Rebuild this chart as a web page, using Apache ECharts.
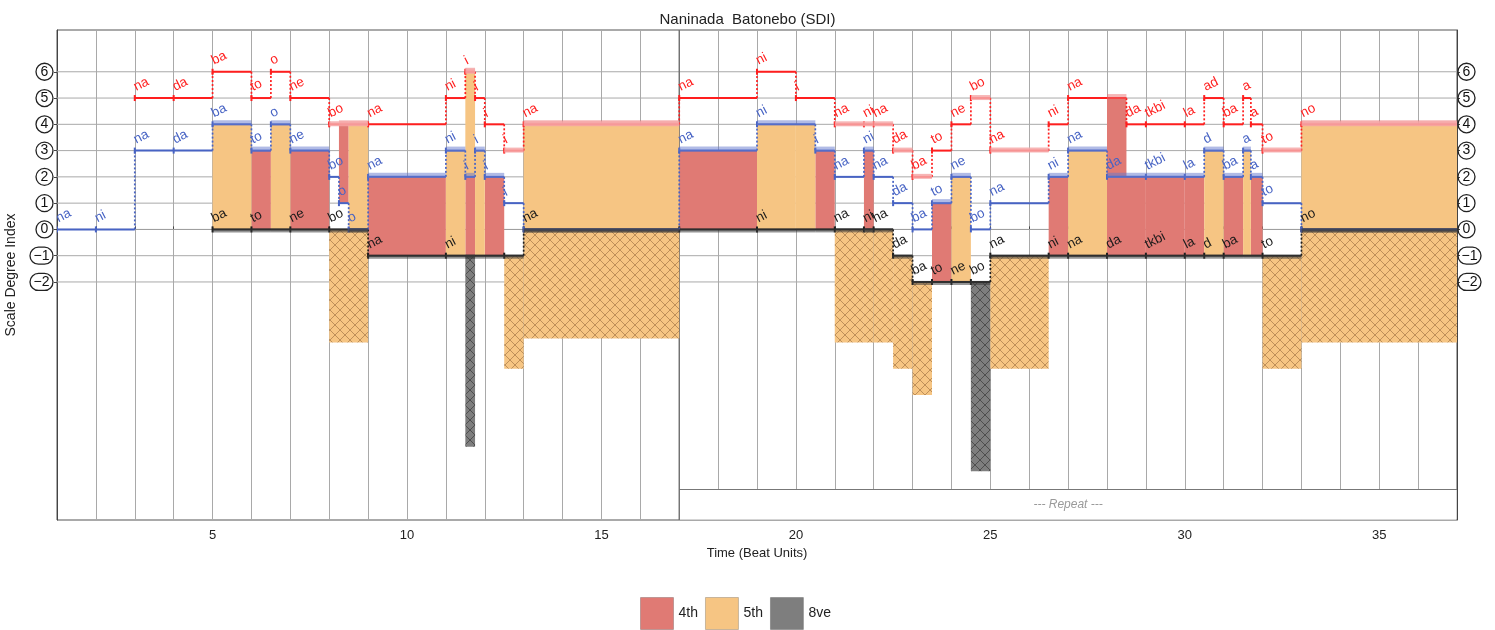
<!DOCTYPE html>
<html><head><meta charset="utf-8">
<script src="https://cdn.jsdelivr.net/npm/echarts@6/dist/echarts.min.js"></script>
<style>html,body{margin:0;padding:0;background:#fff}#c{width:1495px;height:630px}</style>
</head><body><div id="c"></div>
<script>
// ---------- data ----------
const titleText = 'Naninada  Batonebo (SDI)';
// [start beat, end beat, scale degree, syllable]
const redSegs = [
  [3,4,5,'na'],[4,5,5,'da'],[5,6,6,'ba'],[6,6.5,5,'to'],[6.5,7,6,'o'],[7,8,5,'ne'],[8,9,4,'bo'],[9,11,4,'na'],
  [11,11.5,5,'ni'],[11.5,11.75,6,'i'],[11.75,12,5,'i'],[12,12.5,4,'i'],[12.5,13,3,'i'],[13,17,4,'na'],
  [17,19,5,'na'],[19,20,6,'ni'],[20,21,5,'i'],[21,21.75,4,'na'],[21.75,22,4,'ni'],[22,22.5,4,'ha'],
  [22.5,23,3,'da'],[23,23.5,2,'ba'],[23.5,24,3,'to'],[24,24.5,4,'ne'],[24.5,25,5,'bo'],[25,26.5,3,'na'],
  [26.5,27,4,'ni'],[27,28.5,5,'na'],[28.5,29,4,'da'],[29,30,4,'tkbi'],[30,30.5,4,'la'],[30.5,31,5,'ad'],
  [31,31.5,4,'ba'],[31.5,31.7,5,'a'],[31.7,32,4,'a'],[32,33,3,'to'],[33,37,4,'no']
];
const blueSegs = [
  [1,2,0,'na'],[2,3,0,'ni'],[3,4,3,'na'],[4,5,3,'da'],[5,6,4,'ba'],[6,6.5,3,'to'],[6.5,7,4,'o'],[7,8,3,'ne'],
  [8,8.25,2,'bo'],[8.25,8.5,1,'o'],[8.5,9,0,'o'],[9,11,2,'na'],[11,11.5,3,'ni'],[11.5,11.75,2,'i'],
  [11.75,12,3,'i'],[12,12.5,2,'i'],[12.5,13,1,'i'],[13,17,0,''],
  [17,19,3,'na'],[19,20.5,4,'ni'],[20.5,21,3,'i'],[21,21.75,2,'na'],[21.75,22,3,'ni'],[22,22.5,2,'na'],
  [22.5,23,1,'da'],[23,23.5,0,'ba'],[23.5,24,1,'to'],[24,24.5,2,'ne'],[24.5,25,0,'bo'],[25,26.5,1,'na'],
  [26.5,27,2,'ni'],[27,28,3,'na'],[28,29,2,'da'],[29,30,2,'tkbi'],[30,30.5,2,'la'],[30.5,31,3,'d'],
  [31,31.5,2,'ba'],[31.5,31.7,3,'a'],[31.7,32,2,'a'],[32,33,1,'to'],[33,37,0,'']
];
const blackSegs = [
  [5,6,0,'ba'],[6,7,0,'to'],[7,8,0,'ne'],[8,9,0,'bo'],[9,11,-1,'na'],[11,12.5,-1,'ni'],[12.5,13,-1,''],
  [13,17,0,'na'],[17,19,0,''],[19,21,0,'ni'],[21,21.75,0,'na'],[21.75,22,0,'ni'],[22,22.5,0,'ha'],
  [22.5,23,-1,'da'],[23,23.5,-2,'ba'],[23.5,24,-2,'to'],[24,24.5,-2,'ne'],[24.5,25,-2,'bo'],
  [25,26.5,-1,'na'],[26.5,27,-1,'ni'],[27,28,-1,'na'],[28,29,-1,'da'],[29,30,-1,'tkbi'],[30,30.5,-1,'la'],
  [30.5,31,-1,'d'],[31,32,-1,'ba'],[32,33,-1,'to'],[33,37,0,'no']
];
// solid interval bars [start, end, low, high, interval]
const bars = [
  [5,6,0,4,'5th'],[6,6.5,0,3,'4th'],[6.5,7,0,4,'5th'],[7,8,0,3,'4th'],[8.25,8.5,1,4,'4th'],[8.5,9,0,4,'5th'],
  [9,11,-1,2,'4th'],[11,11.5,-1,3,'5th'],[11.5,11.75,-1,2,'4th'],[11.5,11.75,2,6,'5th'],[11.75,12,-1,3,'5th'],
  [12,12.5,-1,2,'4th'],[13,17,0,4,'5th'],
  [17,19,0,3,'4th'],[19,20,0,4,'5th'],[20,20.5,0,4,'5th'],[20.5,21,0,3,'4th'],[21.75,22,0,3,'4th'],
  [23.5,24,-2,1,'4th'],[24,24.5,-2,2,'5th'],[26.5,27,-1,2,'4th'],[27,28,-1,3,'5th'],[28,28.5,2,5,'4th'],
  [28,29,-1,2,'4th'],[29,30,-1,2,'4th'],[30,30.5,-1,2,'4th'],[30.5,31,-1,3,'5th'],[31,31.5,-1,2,'4th'],
  [31.5,31.7,-1,3,'5th'],[31.7,32,-1,2,'4th'],[33,37,0,4,'5th']
];
// hatched (outer-voice) interval bars [start, end, top, bottom, interval]
const hatched = [
  [8,9,0,-4.3,'5th'],[11.5,11.75,-1,-8.27,'8ve'],[12.5,13,-1,-5.3,'5th'],[13,17,0,-4.15,'5th'],
  [21,21.75,0,-4.3,'5th'],[21.75,22,0,-4.3,'5th'],[22,22.5,0,-4.3,'5th'],[22.5,23,-1,-5.3,'5th'],
  [23,23.5,-2,-6.3,'5th'],[24.5,25,-2,-9.2,'8ve'],[25,26.5,-1,-5.3,'5th'],[32,33,-1,-5.3,'5th'],
  [33,37,0,-4.3,'5th']
];
const yTickValues = [-2,-1,0,1,2,3,4,5,6];
const xLabelValues = [5,10,15,20,25,30,35];
const legendNames = ['4th','5th','8ve'];
const repeatBox = [17, 37, -9.9];
const repeatText = '--- Repeat ---';

// ---------- styling ----------
const X_MIN = 1, X_MAX = 37, Y_MIN = -11.06, Y_MAX = 7.59;
const FILL = {'4th':'#E07A74','5th':'#F6C583','8ve':'#7E7E7E'};
const RED = '#FF1E1E', BLUE = '#4763C4', BLACK = '#1E1E1E';
const FONT = '"Liberation Sans", Arial, Helvetica, sans-serif';

function makeHatch(bg, line){
  const c = document.createElement('canvas'); c.width = 10; c.height = 10;
  const g = c.getContext('2d'); g.fillStyle = bg; g.fillRect(0,0,10,10);
  g.strokeStyle = line; g.lineWidth = 0.9; g.beginPath();
  g.moveTo(0,0); g.lineTo(10,10); g.moveTo(10,0); g.lineTo(0,10); g.stroke();
  return c;
}
const HATCH = {
  '5th': {image: makeHatch('#F6C583','rgba(150,105,60,0.65)'), repeat:'repeat'},
  '8ve': {image: makeHatch('#7E7E7E','rgba(50,50,50,0.7)'), repeat:'repeat'}
};
function levelAt(segs, t){ for (const s of segs) if (s[0] <= t && t < s[1]) return s[2]; return null; }

function rectFrom(api, x0, x1, yHi, yLo){
  const a = api.coord([x0, yHi]), b = api.coord([x1, yLo]);
  return {x:a[0], y:a[1], width:b[0]-a[0], height:b[1]-a[1]};
}

function intervalSeries(kind){
  const items = bars.filter(b=>b[4]===kind).map(b=>({x0:b[0],x1:b[1],lo:b[2],hi:b[3],h:false}))
    .concat(hatched.filter(h=>h[4]===kind).map(h=>({x0:h[0],x1:h[1],lo:h[3],hi:h[2],h:true})));
  return {
    name: kind, type:'custom', z:3, silent:true, clip:true,
    itemStyle:{color: FILL[kind]},
    data: items.map(it=>[it.x0,it.x1,it.lo,it.hi]), encode:{x:[0,1], y:[2,3]},
    renderItem(params, api){
      const it = items[params.dataIndex];
      return {type:'rect', shape: rectFrom(api, it.x0, it.x1, it.hi, it.lo),
        style:{fill: it.h ? HATCH[kind] : FILL[kind]}};
    }
  };
}

function voiceSeries(segs, color){
  return {
    type:'custom', z:4, silent:true, clip:true,
    data: segs.map(s=>[s[0],s[1],s[2]]), encode:{x:[0,1], y:2},
    renderItem(params, api){
      const i = params.dataIndex, s = segs[i];
      const a = api.coord([s[0], s[2]]), b = api.coord([s[1], s[2]]);
      const ch = [
        {type:'line', shape:{x1:a[0],y1:a[1],x2:b[0],y2:b[1]}, style:{stroke:color, lineWidth:2}},
        {type:'line', shape:{x1:a[0],y1:a[1]-3,x2:a[0],y2:a[1]+3}, style:{stroke:color, lineWidth:2}}
      ];
      const n = segs[i+1];
      if (n && Math.abs(n[0]-s[1]) < 1e-6 && n[2] !== s[2]) {
        const c = api.coord([n[0], n[2]]);
        ch.push({type:'line', shape:{x1:b[0],y1:b[1],x2:c[0],y2:c[1]}, style:{stroke:color, lineWidth:1.7, lineDash:[2,2]}});
      }
      return {type:'group', children:ch};
    }
  };
}

function labelSeries(segs, color){
  return {
    type:'custom', z:6, silent:true, clip:true,
    data: segs.map(s=>[s[0],s[1],s[2]]), encode:{x:[0,1], y:2},
    renderItem(params, api){
      const s = segs[params.dataIndex];
      if (!s[3]) return {type:'group', children:[]};
      const a = api.coord([s[0], s[2]]);
      return {type:'text', x:a[0]+3, y:a[1]-4, rotation:0.47,
        style:{text:s[3], x:0, y:0, fill:color, font:'13.5px '+FONT,
          align:'left', verticalAlign:'bottom', textAlign:'left', textVerticalAlign:'bottom'}};
    }
  };
}

// glow bands (soft edges where an interval bar meets a voice line)
const glowItems = [];
bars.forEach(b=>{
  const m = (b[0]+b[1])/2;
  glowItems.push({x0:b[0],x1:b[1],y:b[3],d:[-4,1],c: levelAt(redSegs,m)===b[3] ? 'rgba(238,110,110,0.5)' : 'rgba(100,120,205,0.5)'});
  if (levelAt(blackSegs,m)===b[2]) glowItems.push({x0:b[0],x1:b[1],y:b[2],d:[-1,3],c:'rgba(60,60,60,0.55)'});
});
hatched.forEach(h=>{
  const m = (h[0]+h[1])/2, r = levelAt(redSegs,m);
  if (r !== null) glowItems.push({x0:h[0],x1:h[1],y:r,d:[-3,2],c:'rgba(246,168,168,0.85)'});
  glowItems.push({x0:h[0],x1:h[1],y:h[2],d:[-1,3],c:'rgba(60,60,60,0.55)'});
});

const axisLabelCommon = {
  customValues: yTickValues,
  formatter: v => v < 0 ? '{w|\u2212' + (-v) + '}' : '{c|' + v + '}',
  rich: {
    c:{width:17,height:17,lineHeight:17,borderRadius:9,borderWidth:1.3,borderColor:'#222',align:'center',fontSize:14,color:'#111',fontFamily:FONT},
    w:{width:23,height:17,lineHeight:17,borderRadius:9,borderWidth:1.3,borderColor:'#222',align:'center',fontSize:14,color:'#111',fontFamily:FONT}
  }
};

const chart = echarts.init(document.getElementById('c'), null, {renderer:'canvas'});
chart.setOption({
  animation:false,
  backgroundColor:'#fff',
  textStyle:{fontFamily:FONT},
  title:{text:titleText, left:'center', top:7, textStyle:{fontSize:15, fontWeight:'normal', color:'#222', fontFamily:FONT}},
  legend:{data:legendNames, top:597, left:640, padding:0, icon:'rect', itemWidth:33, itemHeight:32, itemGap:7,
    selectedMode:false, textStyle:{fontSize:14, color:'#222'}, itemStyle:{borderColor:'rgba(0,0,0,0.2)', borderWidth:1}},
  grid:{left:57, right:38, top:30, bottom:110, containLabel:false, outerBoundsMode:'none', show:true, borderColor:'#555', borderWidth:1},
  xAxis:{type:'value', min:X_MIN, max:X_MAX, interval:1,
    name:'Time (Beat Units)', nameLocation:'middle', nameGap:27, nameTextStyle:{fontSize:13, color:'#222'},
    axisLine:{lineStyle:{color:'#444'}},
    axisTick:{inside:true, length:3, lineStyle:{color:'#444'}},
    axisLabel:{fontSize:13, color:'#222', margin:9, formatter: v => xLabelValues.indexOf(v) >= 0 ? String(v) : ''},
    splitLine:{show:true, lineStyle:{color:'#a9a9a9', width:1}}},
  yAxis:[
    {type:'value', min:Y_MIN, max:Y_MAX, position:'left',
      name:'Scale Degree Index', nameLocation:'middle', nameGap:32, nameTextStyle:{fontSize:14, color:'#222'},
      axisLine:{show:true, lineStyle:{color:'#444'}}, axisTick:{show:true, customValues:yTickValues, length:3, lineStyle:{color:'#444'}},
      axisLabel:Object.assign({margin:4}, axisLabelCommon), splitLine:{show:false}},
    {type:'value', min:Y_MIN, max:Y_MAX, position:'right',
      axisLine:{show:true, lineStyle:{color:'#444'}}, axisTick:{show:true, customValues:yTickValues, length:3, lineStyle:{color:'#444'}},
      axisLabel:Object.assign({margin:1}, axisLabelCommon), splitLine:{show:false}}
  ],
  series:[
    { // horizontal grid lines at the scale degrees
      type:'custom', z:1, silent:true, clip:true,
      data: yTickValues.map(v=>[v]), encode:{y:0},
      renderItem(params, api){
        const v = yTickValues[params.dataIndex];
        const a = api.coord([X_MIN, v]), b = api.coord([X_MAX, v]);
        return {type:'line', shape:{x1:a[0],y1:a[1],x2:b[0],y2:b[1]}, style:{stroke:'#a9a9a9', lineWidth:1}};
      }
    },
    { // repeat box
      type:'custom', z:1, silent:true, clip:false,
      data:[[repeatBox[0], repeatBox[1], repeatBox[2]]], encode:{x:[0,1], y:2},
      renderItem(params, api){
        const a = api.coord([repeatBox[0], repeatBox[2]]), b = api.coord([repeatBox[1], Y_MIN]);
        const top = api.coord([repeatBox[0], Y_MAX]);
        return {type:'group', children:[
          {type:'rect', shape:{x:a[0]+0.5, y:a[1], width:b[0]-a[0]-1, height:b[1]-a[1]-0.5}, style:{fill:'#fff'}},
          {type:'line', shape:{x1:a[0],y1:a[1],x2:b[0],y2:a[1]}, style:{stroke:'#777', lineWidth:1.2}},
          {type:'line', shape:{x1:a[0],y1:top[1],x2:a[0],y2:b[1]}, style:{stroke:'#6a6a6a', lineWidth:1.3}},
          {type:'text', x:(a[0]+b[0])/2, y:(a[1]+b[1])/2, style:{text:repeatText, x:0, y:0, fill:'#9a9a9a',
            font:'italic 12px '+FONT, align:'center', verticalAlign:'middle', textAlign:'center', textVerticalAlign:'middle'}}
        ]};
      }
    },
    intervalSeries('8ve'),
    intervalSeries('4th'),
    intervalSeries('5th'),
    voiceSeries(blackSegs, BLACK),
    voiceSeries(blueSegs, BLUE),
    voiceSeries(redSegs, RED),
    { // soft glows
      type:'custom', z:5, silent:true, clip:true,
      data: glowItems.map(g=>[g.x0,g.x1,g.y]), encode:{x:[0,1], y:2},
      renderItem(params, api){
        const g = glowItems[params.dataIndex];
        const a = api.coord([g.x0, g.y]), b = api.coord([g.x1, g.y]);
        return {type:'rect', shape:{x:a[0], y:a[1]+g.d[0], width:b[0]-a[0], height:g.d[1]-g.d[0]}, style:{fill:g.c}};
      }
    },
    labelSeries(blackSegs, '#1a1a1a'),
    labelSeries(blueSegs, BLUE),
    labelSeries(redSegs, RED)
  ]
});
</script>
</body></html>
